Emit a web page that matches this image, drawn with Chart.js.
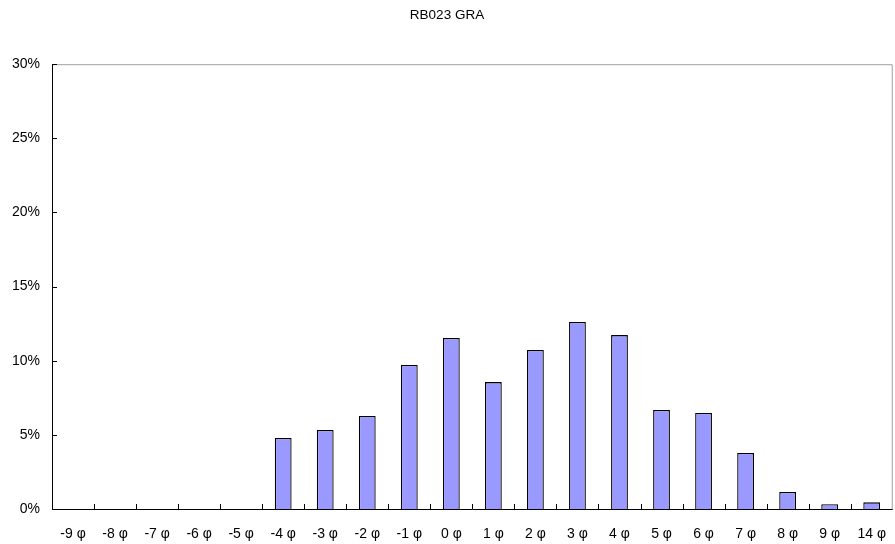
<!DOCTYPE html>
<html>
<head>
<meta charset="utf-8">
<script src="https://cdn.jsdelivr.net/npm/chart.js@4.4.1/dist/chart.umd.min.js"></script>
<style>
  body { margin: 0; background: #fff; }
  #wrap { width: 895px; height: 544px; }
</style>
</head>
<body>
<div id="wrap"><canvas id="grafico"></canvas></div>
<script>
const categorias = ["-9 φ", "-8 φ", "-7 φ", "-6 φ", "-5 φ", "-4 φ", "-3 φ", "-2 φ", "-1 φ", "0 φ",
  "1 φ", "2 φ", "3 φ", "4 φ", "5 φ", "6 φ", "7 φ", "8 φ", "9 φ", "14 φ"]
const valores = [0, 0, 0, 0, 0, 4.79, 5.33, 6.27, 9.71, 11.53,
  8.56, 10.72, 12.61, 11.73, 6.68, 6.47, 3.78, 1.15, 0.32, 0.45]
const titulo = "RB023 GRA"

// marcas hacia adentro y bordes del area
const marcas = {
  id: 'marcas',
  afterDraw(chart) {
    const ctx = chart.ctx
    const a = chart.chartArea
    const x = chart.scales.x
    const y = chart.scales.y
    ctx.save()
    ctx.lineWidth = 1
    ctx.strokeStyle = '#a0a0a0'
    ctx.beginPath()
    ctx.moveTo(a.left, a.top + 0.5)
    ctx.lineTo(a.right - 0.5, a.top + 0.5)
    ctx.lineTo(a.right - 0.5, a.bottom)
    ctx.stroke()
    ctx.strokeStyle = '#000'
    ctx.beginPath()
    ctx.moveTo(a.left + 0.5, a.top)
    ctx.lineTo(a.left + 0.5, a.bottom + 0.5)
    ctx.lineTo(a.right, a.bottom + 0.5)
    y.ticks.forEach(t => {
      const py = Math.round(y.getPixelForValue(t.value)) + 0.5
      ctx.moveTo(a.left, py)
      ctx.lineTo(a.left + 5, py)
    })
    for (let i = 1; i < categorias.length; i++) {
      const px = Math.round((x.getPixelForValue(i - 1) + x.getPixelForValue(i)) / 2) + 0.5
      ctx.moveTo(px, a.bottom)
      ctx.lineTo(px, a.bottom - 5)
    }
    ctx.stroke()
    ctx.restore()
  }
}

new Chart(document.getElementById('grafico'), {
  type: 'bar',
  data: {
    labels: categorias,
    datasets: [{
      data: valores,
      backgroundColor: '#9999ff',
      borderColor: '#000',
      borderWidth: 1.3,
      categoryPercentage: 1,
      barPercentage: 0.4
    }]
  },
  options: {
    responsive: true,
    maintainAspectRatio: false,
    animation: false,
    layout: { padding: { left: 0, right: 1, top: 0, bottom: 0 } },
    plugins: {
      legend: { display: false },
      tooltip: { enabled: false },
      title: {
        display: true,
        text: titulo,
        color: '#000',
        font: { family: 'Liberation Sans, Arial', size: 13.5, weight: 'normal' },
        padding: { top: 7, bottom: 41 }
      }
    },
    scales: {
      x: {
        offset: true,
        grid: { display: false },
        border: { display: false },
        ticks: {
          color: '#000',
          padding: 9,
          maxRotation: 0,
          autoSkip: false,
          font: { family: 'Liberation Sans, Arial', size: 14 }
        },
        afterFit(s) { s.height = 35 }
      },
      y: {
        min: 0,
        max: 30,
        grid: { display: false },
        border: { display: false },
        ticks: {
          stepSize: 5,
          color: '#000',
          padding: 4,
          font: { family: 'Liberation Sans, Arial', size: 14 },
          callback: v => v + '%'
        },
        afterFit(s) { s.width = 52 }
      }
    }
  },
  plugins: [marcas]
})
</script>
</body>
</html>
